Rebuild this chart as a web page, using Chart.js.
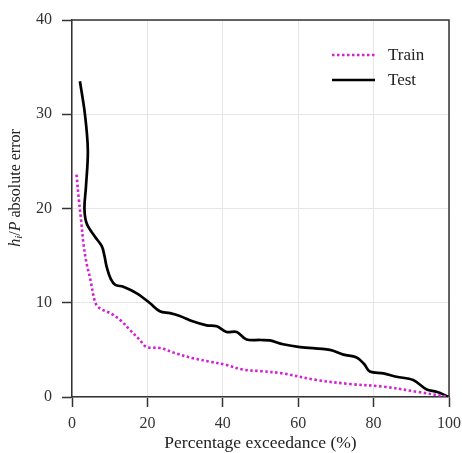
<!DOCTYPE html>
<html>
<head>
<meta charset="utf-8">
<script src="https://cdn.jsdelivr.net/npm/chart.js@4.4.1/dist/chart.umd.min.js"></script>
<style>
  html, body { margin: 0; padding: 0; background: #ffffff; }
  #wrap { width: 462px; height: 453px; }
</style>
</head>
<body>
<div id="wrap"><canvas id="c" width="462" height="453"></canvas></div>
<script>
// Exceedance curves of the absolute error (percentage exceedance vs error)
const trainExceedance = [1.2, 1.8, 2.4, 3.0, 3.8, 4.8, 6.2, 7.4, 10.1, 12.7, 15.4, 18.0, 19.8, 23.3, 27.8, 32.2, 36.6, 41.0, 45.4, 49.9, 56.0, 64.9, 73.7, 82.6, 91.4, 100];
const trainError      = [23.6, 21.0, 18.8, 16.4, 14.3, 12.6, 10.0, 9.4, 8.9, 8.2, 7.1, 6.05, 5.3, 5.2, 4.6, 4.1, 3.75, 3.4, 2.9, 2.75, 2.5, 1.8, 1.38, 1.1, 0.56, 0];

const testExceedance = [2.1, 3.4, 4.2, 3.7, 3.3, 3.9, 6.1, 7.9, 8.6, 9.2, 10.3, 11.5, 13.6, 17.2, 20.7, 23.3, 26.0, 28.6, 32.2, 35.7, 38.4, 41.0, 43.7, 46.3, 50.0, 52.5, 56.0, 60.5, 68.4, 72.0, 75.5, 77.5, 79.0, 82.6, 86.1, 90.5, 94.1, 96.7, 100];
const testError      = [33.5, 30.1, 26.2, 22.3, 20.0, 18.4, 17.0, 16.0, 15.0, 13.8, 12.5, 11.9, 11.7, 11.0, 9.95, 9.1, 8.9, 8.6, 8.0, 7.6, 7.5, 6.9, 6.9, 6.1, 6.05, 6.0, 5.6, 5.3, 5.0, 4.5, 4.2, 3.5, 2.7, 2.5, 2.15, 1.8, 0.8, 0.56, 0];

const seriesNames = ['Train', 'Test'];
const xTicks = [0, 20, 40, 60, 80, 100];
const yTicks = [0, 10, 20, 30, 40];

const SERIF = '"Liberation Serif", "Times New Roman", serif';
const AXIS = '#333333';

function pairs(xs, ys) { return xs.map((x, i) => ({ x: x, y: ys[i] })); }

// top and right frame lines of the plot box
const frame = {
  id: 'frame',
  beforeDatasetsDraw(chart) {
    const { ctx, chartArea: a } = chart;
    ctx.save();
    ctx.strokeStyle = AXIS;
    ctx.lineWidth = 1.5;
    ctx.beginPath();
    ctx.moveTo(a.left, a.top);
    ctx.lineTo(a.right, a.top);
    ctx.lineTo(a.right, a.bottom);
    ctx.stroke();
    ctx.restore();
  }
};

// vertical y-axis title with italic h_i / P
const yTitle = {
  id: 'yTitle',
  afterDraw(chart) {
    const ctx = chart.ctx;
    const parts = [
      { t: 'h', f: 'italic 16px ' + SERIF, dy: 0 },
      { t: 'i', f: 'italic 11px ' + SERIF, dy: 3 },
      { t: '/', f: '16px ' + SERIF, dy: 0 },
      { t: 'P', f: 'italic 16px ' + SERIF, dy: 0 },
      { t: ' absolute error', f: '16px ' + SERIF, dy: 0 }
    ];
    ctx.save();
    let total = 0;
    parts.forEach(p => { ctx.font = p.f; p.w = ctx.measureText(p.t).width; total += p.w; });
    ctx.translate(16, 188);
    ctx.rotate(-Math.PI / 2);
    ctx.fillStyle = '#222222';
    ctx.textBaseline = 'middle';
    let x = -total / 2;
    parts.forEach(p => {
      ctx.font = p.f;
      ctx.fillText(p.t, x, p.dy);
      x += p.w;
    });
    ctx.restore();
  }
};

// legend in the upper right of the plot box
const boxLegend = {
  id: 'boxLegend',
  afterDraw(chart) {
    const ctx = chart.ctx;
    const rows = [55, 80];
    ctx.save();
    chart.data.datasets.forEach((ds, i) => {
      const y = rows[i];
      ctx.strokeStyle = ds.borderColor;
      ctx.lineWidth = ds.borderWidth;
      ctx.setLineDash(ds.borderDash || []);
      ctx.lineCap = 'butt';
      ctx.beginPath();
      ctx.moveTo(332, y);
      ctx.lineTo(375, y);
      ctx.stroke();
      ctx.setLineDash([]);
      ctx.fillStyle = '#222222';
      ctx.font = '17px ' + SERIF;
      ctx.textBaseline = 'middle';
      ctx.fillText(ds.label, 388, y + 1);
    });
    ctx.restore();
  }
};

new Chart(document.getElementById('c'), {
  type: 'line',
  data: {
    datasets: [
      {
        label: seriesNames[0],
        data: pairs(trainExceedance, trainError),
        borderColor: '#d41fd4',
        borderWidth: 2.6,
        borderDash: [2.5, 2.5],
        borderCapStyle: 'butt',
        pointRadius: 0,
        tension: 0.35,
        fill: false
      },
      {
        label: seriesNames[1],
        data: pairs(testExceedance, testError),
        borderColor: '#000000',
        borderWidth: 2.7,
        pointRadius: 0,
        tension: 0.35,
        fill: false
      }
    ]
  },
  options: {
    responsive: false,
    animation: false,
    layout: { padding: { left: 0, right: 13, top: 20, bottom: 0 } },
    plugins: { legend: { display: false }, tooltip: { enabled: false } },
    scales: {
      x: {
        type: 'linear',
        min: 0, max: 100,
        afterBuildTicks(scale) { scale.ticks = xTicks.map(v => ({ value: v })); },
        afterFit(scale) { scale.height = 56; scale.paddingLeft = 0; scale.paddingRight = 0; },
        grid: { color: '#e6e6e6', lineWidth: 1, tickColor: AXIS, tickLength: 10, tickWidth: 1.5 },
        border: { color: AXIS, width: 1.5 },
        ticks: { font: { family: SERIF, size: 16 }, color: '#333333', padding: 7, maxRotation: 0 },
        title: { display: true, text: 'Percentage exceedance (%)', font: { family: SERIF, size: 17.5 }, color: '#222222', padding: { top: 0, bottom: -1 } }
      },
      y: {
        type: 'linear',
        min: 0, max: 40,
        afterBuildTicks(scale) { scale.ticks = yTicks.map(v => ({ value: v })); },
        afterFit(scale) { scale.width = 72; scale.paddingTop = 0; scale.paddingBottom = 0; },
        grid: { color: '#e6e6e6', lineWidth: 1, tickColor: AXIS, tickLength: 10, tickWidth: 1.5 },
        border: { color: AXIS, width: 1.5 },
        ticks: { font: { family: SERIF, size: 16 }, color: '#333333', padding: 10 }
      }
    }
  },
  plugins: [frame, yTitle, boxLegend]
});
</script>
</body>
</html>
